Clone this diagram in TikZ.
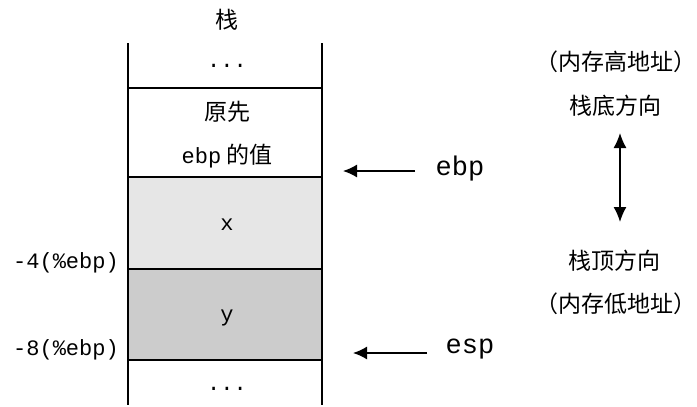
\documentclass[tikz,border=0pt]{standalone}
\usepackage{fontspec}
\setmonofont{Liberation Mono}
\newfontfamily\cjk{Noto Sans CJK SC}
\usetikzlibrary{arrows.meta}
\definecolor{lightfill}{HTML}{E6E6E6}
\definecolor{darkfill}{HTML}{CCCCCC}
\tikzset{
  cjklabel/.style={font=\cjk\fontsize{23}{27}\selectfont, inner sep=0pt},
  monosmall/.style={font=\ttfamily\fontsize{22}{26}\selectfont, inner sep=0pt},
  monobig/.style={font=\ttfamily\fontsize{27}{30}\selectfont, inner sep=0pt},
  boxline/.style={line width=1.6pt},
  ptr/.style={line width=1.5pt, -{Latex[length=14pt,width=13pt]}},
  dir/.style={line width=1.5pt, {Latex[length=15pt,width=13pt]}-{Latex[length=15pt,width=13pt]}}
}
\begin{document}
\begin{tikzpicture}[x=1pt,y=-1pt]
\useasboundingbox (0,0) rectangle (697,407);
% fills
\fill[lightfill] (128,177) rectangle (322,269);
\fill[darkfill] (128,269) rectangle (322,360);
% stack frame
\draw[boxline] (128,43) -- (128,405);
\draw[boxline] (322,43) -- (322,405);
\draw[boxline] (128,88) -- (322,88);
\draw[boxline] (128,177) -- (322,177);
\draw[boxline] (128,269) -- (322,269);
\draw[boxline] (128,360) -- (322,360);
% stack contents
\node[cjklabel] (title) at (227,20) {栈};
\node[monosmall] (dtop) at (227,66) {...};
\node[cjklabel] (old1) at (227,112) {原先};
\node[cjklabel] (old2) at (227,156) {{\ttfamily\fontsize{22}{26}\selectfont ebp} 的值};
\node[monosmall] (xv) at (227,225) {x};
\node[monosmall] (yv) at (227,318) {y};
\node[monosmall] (dbot) at (227,389) {...};
% offsets
\node[monosmall, anchor=east] (off4) at (119,263) {-4(\%ebp)};
\node[monosmall, anchor=east] (off8) at (119,350) {-8(\%ebp)};
% pointers
\node[monobig] (ebpl) at (460,169) {ebp};
\node[monobig] (espl) at (470,349) {esp};
\coordinate (ebptip) at (343,171);
\coordinate (ebptail) at (415,171);
\coordinate (esptip) at (353,353);
\coordinate (esptail) at (427,353);
\draw[ptr] (ebptail) -- (ebptip);
\draw[ptr] (esptail) -- (esptip);
% direction
\node[cjklabel, anchor=east] (hi) at (697,62) {（内存高地址）};
\node[cjklabel] (bottomdir) at (615,106) {栈底方向};
\node[cjklabel] (topdir) at (614,261) {栈顶方向};
\node[cjklabel, anchor=east] (lo) at (697,304) {（内存低地址）};
\coordinate (dtopc) at (620,133);
\coordinate (dbotc) at (620,222);
\draw[dir] (dtopc) -- (dbotc);
\end{tikzpicture}
\end{document}
